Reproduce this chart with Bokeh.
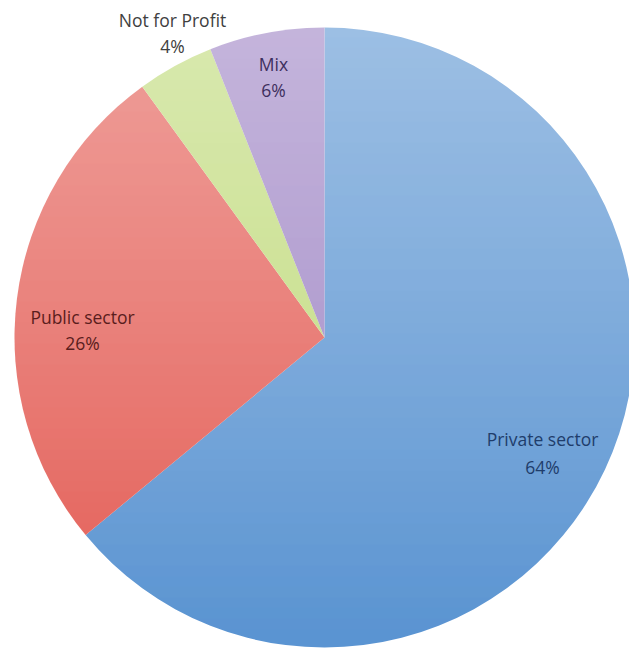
from math import pi
import numpy as np
from bokeh.plotting import figure
from bokeh.models import Range1d, ColumnDataSource
from bokeh.core.properties import value
from bokeh.embed import file_html
from bokeh.resources import INLINE

# data
categories = ["Private sector", "Public sector", "Not for Profit", "Mix"]
shares = [64, 26, 4, 6]
colors = ["#5A94D2", "#E45D55", "#BFDA78", "#9D83C4"]
label_colors = ["#1F3D6B", "#5A1D1D", "#404040", "#3E2F5E"]

# layout (screen pixel space)
W, H = 629, 658
cx, cy_screen, R = 324, 337, 310
cy = H - cy_screen
# label centers (screen coords): x, first line y, second line y
label_pos = [(542, 438, 466), (82, 316, 342), (172, 19, 45), (273, 63, 89)]

p = figure(width=W, height=H, output_backend="svg", toolbar_location=None,
           x_range=Range1d(0, W), y_range=Range1d(0, H), min_border=0)
p.axis.visible = False
p.grid.visible = False
p.outline_line_color = None
p.background_fill_color = "white"
p.border_fill_color = "white"

total = sum(shares)
starts, ends = [], []
acc = 0.0
for s in shares:
    a0 = pi / 2 - 2 * pi * acc / total
    acc += s
    a1 = pi / 2 - 2 * pi * acc / total
    starts.append(a0)
    ends.append(a1)

src = ColumnDataSource(dict(x=[cx] * len(shares), y=[cy] * len(shares),
                            start=starts, end=ends, color=colors))
p.wedge(x="x", y="y", radius=R, start_angle="start", end_angle="end",
        direction="clock", fill_color="color", line_color=None, source=src)

# vertical light-to-dark shading: white veil fading out toward the bottom
top_s = cy_screen - R
bot_s = cy_screen + R
edges = np.arange(top_s - 1, bot_s + 2, 1)
b_s = edges[:-1]
t_s = edges[1:]
mid = (b_s + t_s) / 2
alpha = np.clip(0.46 * (bot_s - mid) / (bot_s - top_s), 0, 0.46)
veil = ColumnDataSource(dict(left=[0] * len(b_s), right=[W] * len(b_s),
                             top=(H - b_s).tolist(), bottom=(H - t_s).tolist(),
                             a=alpha.tolist()))
p.quad(left="left", right="right", top="top", bottom="bottom", source=veil,
       fill_color="white", fill_alpha="a", line_color=None)

tx, ty1, ty2, t1, t2, tc = [], [], [], [], [], []
for cat, s, (lx, ly1, ly2), c in zip(categories, shares, label_pos, label_colors):
    tx.append(lx)
    ty1.append(H - ly1)
    ty2.append(H - ly2)
    t1.append(cat)
    t2.append(f"{s}%")
    tc.append(c)

lsrc = ColumnDataSource(dict(x=tx, y1=ty1, y2=ty2, t1=t1, t2=t2, c=tc))
for ycol, tcol in (("y1", "t1"), ("y2", "t2")):
    p.text(x="x", y=ycol, text=tcol, text_color="c", source=lsrc,
           text_align="center", text_baseline="middle",
           text_font=value("Open Sans"), text_font_size="17.5px")

open("out.html", "w").write(file_html(p, INLINE))
